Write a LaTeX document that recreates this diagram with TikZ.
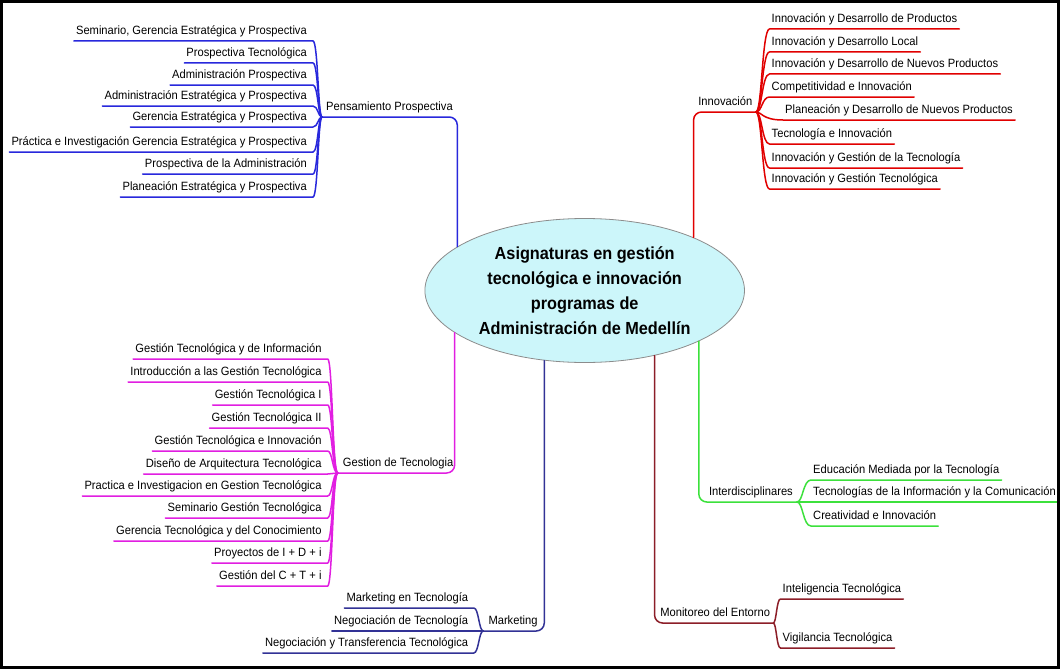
\documentclass[tikz,border=0pt]{standalone}
\usepackage{fontspec}
\setmainfont{Liberation Sans}[FakeStretch=0.93]
\usetikzlibrary{shapes.geometric}
\definecolor{cBlue}{RGB}{40,40,220}
\definecolor{cRed}{RGB}{225,0,0}
\definecolor{cGreen}{RGB}{60,225,60}
\definecolor{cMaroon}{RGB}{140,30,40}
\definecolor{cMag}{RGB}{225,30,225}
\definecolor{cNavy}{RGB}{50,50,150}
\definecolor{cFill}{RGB}{204,246,250}
\definecolor{cEdge}{RGB}{140,140,140}
\begin{document}
\begin{tikzpicture}[x=1pt,y=-1pt,
  leaf/.style={inner xsep=2pt, inner ysep=1pt, text height=9pt, text depth=5pt, font=\fontsize{12}{14}\selectfont},
  lleaf/.style={leaf,anchor=south east},
  rleaf/.style={leaf,anchor=south west},
  conn/.style={line width=1.5pt, line cap=round},
  main/.style={conn, rounded corners=8pt}
  ]
\useasboundingbox (0,0) rectangle (1060,669);
\fill[white] (0,0) rectangle (1060,669);

% central ellipse
\node[ellipse, draw=cEdge, fill=cFill, line width=0.8pt, minimum width=319.6pt, minimum height=144pt, inner sep=0pt, align=center, font=\bfseries\fontsize{17.5}{25.2}\selectfont] (ell) at (584.7,290.5)
  {Asignaturas en gestión\\tecnológica e innovación\\programas de\\Administración de Medellín};

\coordinate (ePP) at (ell.161);
\coordinate (eI) at (ell.26.6);
\coordinate (eD) at (ell.336);
\coordinate (eM) at (ell.317);
\coordinate (eK) at (ell.240.3);
\coordinate (eG) at (ell.198.5);

% hubs and spine positions
\coordinate (hPP) at (322,117);   \coordinate (sPP) at (318,0);
\coordinate (hI) at (756,112);    \coordinate (sI) at (762,0);
\coordinate (hD) at (797,502);    \coordinate (sD) at (803,0);
\coordinate (hM) at (773.3,623);  \coordinate (sM) at (776.5,0);
\coordinate (hG) at (337.7,473);  \coordinate (sG) at (332.5,0);
\coordinate (hK) at (483.3,631);  \coordinate (sK) at (478.8,0);

% ---------- Pensamiento Prospectiva
\node[leaf, anchor=south west, inner xsep=4pt] (PP) at (hPP) {Pensamiento Prospectiva};
\draw[main, draw=cBlue] (hPP) -- (ePP |- hPP) -- (ePP);
\node[lleaf] (p1) at (309,41) {Seminario, Gerencia Estratégica y Prospectiva};
\node[lleaf] (p2) at (309,63) {Prospectiva Tecnológica};
\node[lleaf] (p3) at (309,85) {Administración Prospectiva};
\node[lleaf] (p4) at (309,106) {Administración Estratégica y Prospectiva};
\node[lleaf] (p5) at (309,127) {Gerencia Estratégica y Prospectiva};
\node[lleaf] (p6) at (309,152) {Práctica e Investigación Gerencia Estratégica y Prospectiva};
\node[lleaf] (p7) at (309,174) {Prospectiva de la Administración};
\node[lleaf] (p8) at (309,197) {Planeación Estratégica y Prospectiva};
\foreach \q in {p1,p2,p3,p4,p5,p6,p7,p8}
  \draw[conn, draw=cBlue] (\q.south west) -- ([xshift=4pt]\q.south east)
    .. controls (\q.south east -| sPP) and (hPP -| sPP) .. (hPP);

% ---------- Innovación
\node[leaf, anchor=south east, inner xsep=3.5pt] (IN) at (hI) {Innovación};
\draw[main, draw=cRed] (hI) -- (eI |- hI) -- (eI);
\node[rleaf] (i1) at (769.5,29) {Innovación y Desarrollo de Productos};
\node[rleaf] (i2) at (769.5,52) {Innovación y Desarrollo Local};
\node[rleaf] (i3) at (769.5,74) {Innovación y Desarrollo de Nuevos Productos};
\node[rleaf] (i4) at (769.5,97) {Competitividad e Innovación};
\node[rleaf] (i5) at (783,120) {Planeación y Desarrollo de Nuevos Productos};
\node[rleaf] (i6) at (769.5,144) {Tecnología e Innovación};
\node[rleaf] (i7) at (769.5,168) {Innovación y Gestión de la Tecnología};
\node[rleaf] (i8) at (769.5,189) {Innovación y Gestión Tecnológica};
\foreach \q in {i1,i2,i3,i4,i5,i6,i7,i8}
  \draw[conn, draw=cRed] (hI) .. controls (hI -| sI) and (\q.south west -| sI) .. (\q.south west) -- (\q.south east);

% ---------- Interdisciplinares
\node[leaf, anchor=south east, inner xsep=4pt] (ID) at (hD) {Interdisciplinares};
\draw[main, draw=cGreen] (eD) -- (eD |- hD) -- (hD);
\node[rleaf] (d1) at (811,480) {Educación Mediada por la Tecnología};
\node[rleaf] (d2) at (811,502) {Tecnologías de la Información y la Comunicación};
\node[rleaf] (d3) at (811,526) {Creatividad e Innovación};
\foreach \q in {d1,d2,d3}
  \draw[conn, draw=cGreen] (hD) .. controls (hD -| sD) and (\q.south west -| sD) .. (\q.south west) -- (\q.south east);

% ---------- Monitoreo del Entorno
\node[leaf, anchor=south east, inner xsep=3pt] (MO) at (hM) {Monitoreo del Entorno};
\draw[main, draw=cMaroon] (eM) -- (eM |- hM) -- (hM);
\node[rleaf] (m1) at (780.5,599) {Inteligencia Tecnológica};
\node[rleaf] (m2) at (780.5,648) {Vigilancia Tecnológica};
\foreach \q in {m1,m2}
  \draw[conn, draw=cMaroon] (hM) .. controls (hM -| sM) and (\q.south west -| sM) .. (\q.south west) -- (\q.south east);

% ---------- Gestion de Tecnologia
\node[leaf, anchor=south west, inner xsep=5pt] (GT) at (hG) {Gestion de Tecnologia};
\draw[main, draw=cMag] (hG) -- (eG |- hG) -- (eG);
\node[lleaf] (g1) at (323.7,359) {Gestión Tecnológica y de Información};
\node[lleaf] (g2) at (323.7,382) {Introducción a las Gestión Tecnológica};
\node[lleaf] (g3) at (323.7,405) {Gestión Tecnológica I};
\node[lleaf] (g4) at (323.7,428) {Gestión Tecnológica II};
\node[lleaf] (g5) at (323.7,451) {Gestión Tecnológica e Innovación};
\node[lleaf] (g6) at (323.7,474) {Diseño de Arquitectura Tecnológica};
\node[lleaf] (g7) at (323.7,496) {Practica e Investigacion en Gestion Tecnológica};
\node[lleaf] (g8) at (323.7,518) {Seminario Gestión Tecnológica};
\node[lleaf] (g9) at (323.7,541) {Gerencia Tecnológica y del Conocimiento};
\node[lleaf] (g10) at (323.7,563) {Proyectos de I + D + i};
\node[lleaf] (g11) at (323.7,586) {Gestión del C + T + i};
\foreach \q in {g1,g2,g3,g4,g5,g6,g7,g8,g9,g10,g11}
  \draw[conn, draw=cMag] (\q.south west) -- ([xshift=4pt]\q.south east)
    .. controls (\q.south east -| sG) and (hG -| sG) .. (hG);

% ---------- Marketing
\node[leaf, anchor=south west, inner xsep=5pt] (MK) at (hK) {Marketing};
\draw[main, draw=cNavy] (hK) -- (eK |- hK) -- (eK);
\node[lleaf] (k1) at (470.3,608) {Marketing en Tecnología};
\node[lleaf] (k2) at (470.3,631) {Negociación de Tecnología};
\node[lleaf] (k3) at (470.3,653) {Negociación y Transferencia Tecnológica};
\foreach \q in {k1,k2,k3}
  \draw[conn, draw=cNavy] (\q.south west) -- ([xshift=3.5pt]\q.south east)
    .. controls (\q.south east -| sK) and (hK -| sK) .. (hK);

% frame
\draw[line width=3pt] (1.5,1.5) rectangle (1058.5,667.5);
\end{tikzpicture}
\end{document}
